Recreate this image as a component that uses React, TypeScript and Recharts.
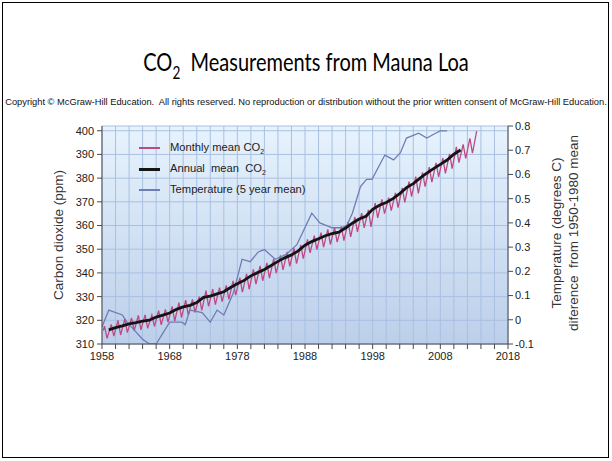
import { CartesianGrid, ComposedChart, Line, XAxis, YAxis } from "recharts";

// Mauna Loa CO2 (ppm): seasonal peak (~May) and trough (~Oct) per year, 1958..2013
const monthlyStart = { year: 1958.2, co2: 315.7 };
const monthlyPeaks = [
  317.5, 318.3, 320.0, 320.6, 321.0, 322.1, 322.3, 322.2, 324.1, 324.6,
  325.9, 327.5, 328.5, 328.8, 330.0, 332.5, 333.2, 333.8, 334.7, 336.6,
  338.0, 339.6, 341.5, 343.0, 344.2, 345.9, 347.4, 348.9, 350.4, 351.8,
  354.2, 355.7, 357.0, 358.4, 359.1, 359.6, 361.5, 363.6, 365.2, 366.6,
  369.5, 371.0, 371.8, 373.8, 375.9, 378.5, 380.6, 382.4, 384.6, 386.4,
  388.5, 390.2, 393.2, 394.2, 396.8, 399.8,
];
const monthlyTroughs = [
  312.4, 313.3, 313.8, 314.8, 315.6, 316.0, 316.6, 317.4, 318.1, 319.2,
  319.7, 321.1, 322.2, 323.3, 324.2, 325.9, 326.6, 327.9, 328.8, 330.6,
  331.9, 333.1, 335.3, 336.7, 337.8, 339.9, 341.3, 342.8, 343.9, 346.0,
  348.5, 349.8, 350.9, 352.0, 353.0, 353.6, 355.2, 357.3, 359.0, 359.4,
  363.2, 365.0, 366.3, 367.6, 369.8, 372.2, 373.6, 376.4, 378.3, 380.5,
  382.0, 384.0, 386.5, 388.3, 390.5,
];

// annual mean CO2, 1959..2011
const annualMean = [
  315.97, 316.91, 317.64, 318.45, 318.99, 319.62, 320.04, 321.37, 322.18, 323.05,
  324.62, 325.68, 326.32, 327.46, 329.68, 330.19, 331.13, 332.03, 333.84, 335.41,
  336.84, 338.76, 340.12, 341.48, 343.15, 344.87, 346.35, 347.61, 349.31, 351.69,
  353.2, 354.45, 355.7, 356.54, 357.21, 358.96, 360.97, 362.74, 363.88, 366.84,
  368.54, 369.71, 371.32, 373.45, 375.98, 377.7, 379.98, 382.09, 384.02, 385.83,
  387.64, 390.1, 391.85,
];

// temperature 5-year mean, deg C difference from 1950-1980 mean
const tempYears = [
  1958, 1959, 1961, 1961.7, 1964, 1965, 1966, 1968, 1969.8, 1970.3,
  1971, 1972.8, 1974, 1975, 1976, 1977.4, 1978.7, 1979.9, 1981.1, 1982,
  1983.6, 1985.2, 1986.8, 1989, 1990.2, 1992, 1993.4, 1994.2, 1995, 1996.2,
  1997.1, 1997.9, 1999.8, 2001.1, 2002.1, 2003, 2004.8, 2006, 2007.3, 2008, 2009,
];
const tempValues = [
  -0.03, 0.04, 0.02, -0.01, -0.08, -0.1, -0.1, -0.01, -0.01, -0.02,
  0.04, 0.03, -0.01, 0.04, 0.02, 0.11, 0.25, 0.24, 0.28, 0.29,
  0.25, 0.27, 0.31, 0.44, 0.4, 0.38, 0.38, 0.39, 0.44, 0.55,
  0.58, 0.58, 0.68, 0.66, 0.69, 0.75, 0.77, 0.75, 0.77, 0.78, 0.78,
];

const yearTicks = [
  1958, 1960, 1962, 1964, 1966, 1968, 1970, 1972, 1974, 1976, 1978, 1980, 1982,
  1984, 1986, 1988, 1990, 1992, 1994, 1996, 1998, 2000, 2002, 2004, 2006, 2008,
  2010, 2012, 2014, 2016, 2018,
];
const yearLabels = [1958, 1968, 1978, 1988, 1998, 2008, 2018];
const co2Ticks = [310, 320, 330, 340, 350, 360, 370, 380, 390, 400];
const tempTicks = [-0.1, 0, 0.1, 0.2, 0.3, 0.4, 0.5, 0.6, 0.7, 0.8];

const monthly = [monthlyStart];
monthlyPeaks.forEach((p, i) => {
  monthly.push({ year: 1958 + i + 0.37, co2: p });
  if (i < monthlyTroughs.length) monthly.push({ year: 1958 + i + 0.75, co2: monthlyTroughs[i] });
});
const annual = annualMean.map((v, i) => ({ year: 1959 + i, co2: v }));
const temperature = tempYears.map((y, i) => ({ year: y, temp: tempValues[i] }));

const W = 612;
const H = 461;
const AXIS = "#4a4a4a";
const tickStyle = { fill: "#222", fontSize: 11, fontFamily: "'Liberation Sans', Arial, sans-serif" };
const MONTHLY = "#bd4a85";
const TEMP = "#6e7db3";

function Co2({ size }: { size: number }) {
  return (
    <span>
      CO<span style={{ fontSize: size, position: "relative", top: size * 0.45 }}>2</span>
    </span>
  );
}

export default function App() {
  return (
    <div
      style={{
        position: "absolute",
        left: 0,
        top: 0,
        width: W,
        height: H,
        background: "#fff",
        overflow: "hidden",
        fontFamily: "'Liberation Sans', Arial, sans-serif",
      }}
    >
      <svg width={0} height={0} style={{ position: "absolute" }}>
        <defs>
          <linearGradient id="plotBg" x1="0" y1="0" x2="0" y2="1">
            <stop offset="0" stopColor="#e7f3fd" />
            <stop offset="1" stopColor="#bccfea" />
          </linearGradient>
        </defs>
      </svg>

      <div
        style={{
          position: "absolute",
          left: 2,
          top: 2,
          width: 605,
          height: 454,
          border: "1.5px solid #000",
        }}
      />

      <div
        style={{
          position: "absolute",
          left: 0,
          width: W,
          top: 46,
          textAlign: "center",
          fontFamily: "Lato, 'Open Sans', sans-serif",
          fontSize: 25,
          color: "#000",
          whiteSpace: "pre",
          transform: "scaleX(0.8)",
        }}
      >
        <Co2 size={17} />
        {"  Measurements from Mauna Loa"}
      </div>

      <div
        style={{
          position: "absolute",
          left: 0,
          width: W,
          top: 97,
          textAlign: "center",
          fontSize: 9.3,
          color: "#111",
          whiteSpace: "pre",
        }}
      >
        {"Copyright © McGraw-Hill Education.  All rights reserved. No reproduction or distribution without the prior written consent of McGraw-Hill Education."}
      </div>

      <ComposedChart
        width={W}
        height={H}
        margin={{ top: 126, right: 64, bottom: 97, left: 52 }}
        style={{ position: "absolute", left: 0, top: 0 }}
      >
        <CartesianGrid
          xAxisId="bottom"
          yAxisId="left"
          fill="url(#plotBg)"
          fillOpacity={1}
          stroke="#a9c0e2"
          strokeWidth={1}
        />
        <XAxis
          xAxisId="bottom"
          type="number"
          dataKey="year"
          domain={[1958, 2018]}
          ticks={yearTicks}
          interval={0}
          tickFormatter={(v: number) => (yearLabels.includes(v) ? String(v) : "")}
          height={20}
          tickSize={5}
          tickMargin={3}
          stroke={AXIS}
          tick={tickStyle}
          allowDataOverflow
        />
        <XAxis
          xAxisId="top"
          orientation="top"
          type="number"
          domain={[1958, 2018]}
          ticks={yearTicks}
          interval={0}
          height={0}
          mirror
          tick={false}
          tickSize={4}
          stroke={AXIS}
        />
        <YAxis
          yAxisId="left"
          domain={[310, 402]}
          ticks={co2Ticks}
          interval={0}
          width={50}
          tickSize={5}
          tickMargin={3}
          stroke={AXIS}
          tick={tickStyle}
          allowDataOverflow
        />
        <YAxis
          yAxisId="right"
          orientation="right"
          domain={[-0.1, 0.8]}
          ticks={tempTicks}
          interval={0}
          width={40}
          tickSize={5}
          stroke={AXIS}
          tick={{ ...tickStyle, textAnchor: "start" }}
          allowDataOverflow
        />
        <Line
          xAxisId="bottom"
          yAxisId="left"
          data={monthly}
          dataKey="co2"
          stroke={MONTHLY}
          strokeWidth={1.3}
          dot={false}
          type="linear"
          isAnimationActive={false}
        />
        <Line
          xAxisId="bottom"
          yAxisId="right"
          data={temperature}
          dataKey="temp"
          stroke={TEMP}
          strokeWidth={1.3}
          dot={false}
          type="linear"
          isAnimationActive={false}
        />
        <Line
          xAxisId="bottom"
          yAxisId="left"
          data={annual}
          dataKey="co2"
          stroke="#141414"
          strokeWidth={2.8}
          dot={false}
          type="linear"
          isAnimationActive={false}
        />
      </ComposedChart>

      {/* legend inside the plot */}
      {[
        { label: <>Monthly mean <Co2 size={7} /></>, color: MONTHLY, width: 1.5, y: 148 },
        { label: <>Annual  mean  <Co2 size={7} /></>, color: "#141414", width: 3, y: 169 },
        { label: <>Temperature (5 year mean)</>, color: TEMP, width: 1.5, y: 190 },
      ].map((item, i) => (
        <div key={i}>
          <div
            style={{
              position: "absolute",
              left: 139,
              top: item.y - item.width / 2,
              width: 21,
              height: item.width,
              background: item.color,
            }}
          />
          <div
            style={{
              position: "absolute",
              left: 170,
              top: item.y - 7,
              fontSize: 11.2,
              lineHeight: "13px",
              color: "#222",
              whiteSpace: "pre",
            }}
          >
            {item.label}
          </div>
        </div>
      ))}

      {/* axis titles */}
      <div
        style={{
          position: "absolute",
          left: 58,
          top: 235,
          transform: "translate(-50%, -50%) rotate(-90deg)",
          fontSize: 13.5,
          color: "#333",
          whiteSpace: "pre",
        }}
      >
        Carbon dioxide (ppm)
      </div>
      <div
        style={{
          position: "absolute",
          left: 565,
          top: 233,
          transform: "translate(-50%, -50%) rotate(-90deg)",
          fontSize: 13.5,
          lineHeight: "17px",
          color: "#333",
          whiteSpace: "pre",
          textAlign: "center",
        }}
      >
        {"Temperature (degrees C)\ndiference  from 1950-1980 mean"}
      </div>
    </div>
  );
}
